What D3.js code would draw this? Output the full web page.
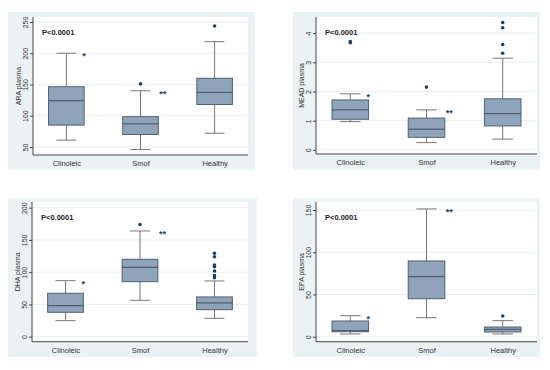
<!DOCTYPE html>
<html>
<head>
<meta charset="utf-8">
<script src="https://cdn.jsdelivr.net/npm/d3@7"></script>
<style>
body { margin: 0; background: #fff; }
text { font-family: "Liberation Sans", Arial, sans-serif; }
</style>
</head>
<body>
<div id="abc"></div>
<script>
var width = 550;
var height = 370;

var groups = ["Clinoleic", "Smof", "Healthy"];
var starLabels = ["*", "**", ""];

// [low whisker, Q1, median, Q3, high whisker]
var araStats = [[61, 85, 124, 146.5, 200], [46, 70, 87, 98.5, 140], [72, 118, 137.5, 160, 218.5]];
var araOutliers = [[], [151], [243.6]];
var araTicks = [50, 100, 150, 200, 250];

var meadStats = [[0.97, 1.05, 1.37, 1.71, 1.92], [0.25, 0.43, 0.71, 1.09, 1.37], [0.37, 0.82, 1.24, 1.75, 3.14]];
var meadOutliers = [[3.71, 3.67], [2.15], [4.36, 4.18, 3.61, 3.31]];
var meadTicks = [0, 1, 2, 3, 4];

var dhaStats = [[24.8, 37.8, 48, 67.3, 86.8], [56.4, 85.3, 107.6, 120, 163.9], [28.5, 41.9, 52.3, 61.6, 86.4]];
var dhaOutliers = [[], [174], [129.3, 124, 111.2, 108.5, 101.9, 94.6, 91.5]];
var dhaTicks = [0, 50, 100, 150, 200];

var epaStats = [[3.2, 5.9, 7.1, 18.6, 24.9], [22.5, 45, 71.1, 89.7, 151.3], [3.2, 5.6, 8.8, 11.5, 19]];
var epaOutliers = [[], [], [24.5]];
var epaTicks = [0, 50, 100, 150];

var canvas = d3.select("#abc")
	.append("svg")
	.attr("width", width)
	.attr("height", height);

// panel layout: bg box, plot box, y domain at plot bottom/top
var paneles = [
	{title: "ARA plasma", stats: araStats, out: araOutliers, ticks: araTicks,
	 bg: [8, 12, 255, 170], plot: [33, 17, 248, 155], dom: [37.2, 258]},
	{title: "MEAD plasma", stats: meadStats, out: meadOutliers, ticks: meadTicks,
	 bg: [293, 12, 540, 170], plot: [316, 17, 537, 154], dom: [-0.14, 4.55]},
	{title: "DHA plasma", stats: dhaStats, out: dhaOutliers, ticks: dhaTicks,
	 bg: [8, 198, 257, 357], plot: [32, 202, 248, 341.7], dom: [-7.8, 208.8]},
	{title: "EPA plasma", stats: epaStats, out: epaOutliers, ticks: epaTicks,
	 bg: [293, 198, 540, 357], plot: [316, 202, 537, 341.7], dom: [-5.9, 159.5]}
];

paneles.forEach(function(p) {
	var g = canvas.append("g");
	var x0 = p.plot[0], y0 = p.plot[1], x1 = p.plot[2], y1 = p.plot[3];

	g.append("rect")
		.attr("x", p.bg[0]).attr("y", p.bg[1])
		.attr("width", p.bg[2] - p.bg[0]).attr("height", p.bg[3] - p.bg[1])
		.attr("fill", "#eaf2f3");
	g.append("rect")
		.attr("x", x0).attr("y", y0)
		.attr("width", x1 - x0).attr("height", y1 - y0)
		.attr("fill", "#fff");

	var x = d3.scalePoint().domain(groups).range([x0, x1]).padding(0.45);
	var y = d3.scaleLinear().domain(p.dom).range([y1, y0]);
	var bw = x.step() * 0.48;

	// grid
	g.selectAll(".grid").data(p.ticks).enter().append("line")
		.attr("x1", x0).attr("x2", x1)
		.attr("y1", function(d) { return y(d); })
		.attr("y2", function(d) { return y(d); })
		.attr("stroke", "#eaeff1")
		.attr("stroke-width", 1);

	// y axis
	var ya = g.append("g")
		.attr("transform", "translate(" + x0 + ",0)")
		.call(d3.axisLeft(y).tickValues(p.ticks).tickFormat(d3.format("d")).tickSize(3).tickSizeOuter(0));
	ya.select(".domain").attr("stroke", "#444").attr("d", "M0," + y1 + "V" + y0);
	ya.selectAll(".tick line").attr("stroke", "#444");
	ya.selectAll(".tick text")
		.attr("transform", "rotate(-90)")
		.attr("x", 0).attr("y", -5.5)
		.attr("dy", 0)
		.attr("text-anchor", "middle")
		.attr("font-size", 7)
		.attr("fill", "#333");

	// x axis
	var xa = g.append("g")
		.attr("transform", "translate(0," + y1 + ")")
		.call(d3.axisBottom(x).tickSize(0).tickPadding(6));
	xa.select(".domain").attr("stroke", "#444").attr("d", "M" + x0 + ",0H" + x1);
	xa.selectAll(".tick text").attr("font-size", 7.5).attr("fill", "#333");

	// y title
	g.append("text")
		.attr("transform", "translate(" + (x0 - 12.5) + "," + ((y0 + y1) / 2) + ") rotate(-90)")
		.attr("text-anchor", "middle")
		.attr("font-size", 7)
		.attr("fill", "#333")
		.text(p.title);

	g.append("text")
		.attr("x", x0 + 9).attr("y", y0 + 18)
		.attr("font-size", 7.5)
		.attr("font-weight", "bold")
		.attr("fill", "#222")
		.text("P<0.0001");

	groups.forEach(function(c, i) {
		var s = p.stats[i];
		var cx = x(c);
		g.append("line")
			.attr("x1", cx).attr("x2", cx)
			.attr("y1", y(s[0])).attr("y2", y(s[4]))
			.attr("stroke", "#777").attr("stroke-width", 1);
		[s[0], s[4]].forEach(function(v) {
			g.append("line")
				.attr("x1", cx - bw * 0.28).attr("x2", cx + bw * 0.28)
				.attr("y1", y(v)).attr("y2", y(v))
				.attr("stroke", "#777").attr("stroke-width", 1);
		});
		g.append("rect")
			.attr("x", cx - bw / 2).attr("y", y(s[3]))
			.attr("width", bw).attr("height", y(s[1]) - y(s[3]))
			.attr("fill", "#8fa3bb")
			.attr("stroke", "#4f6275").attr("stroke-width", 1);
		g.append("line")
			.attr("x1", cx - bw / 2).attr("x2", cx + bw / 2)
			.attr("y1", y(s[2])).attr("y2", y(s[2]))
			.attr("stroke", "#3d4f60").attr("stroke-width", 1);
		g.selectAll(null).data(p.out[i]).enter().append("circle")
			.attr("cx", cx).attr("cy", function(d) { return y(d); })
			.attr("r", 1.8)
			.attr("fill", "#1f3f5f");
		if (starLabels[i] != "") {
			g.append("text")
				.attr("x", cx + bw / 2 - (i == 0 ? 2 : -1))
				.attr("y", y(s[4]) + 6)
				.attr("font-size", 9)
				.attr("font-weight", "bold")
				.attr("fill", "#1f3f5f")
				.text(starLabels[i]);
		}
	});
});
</script>
</body>
</html>
